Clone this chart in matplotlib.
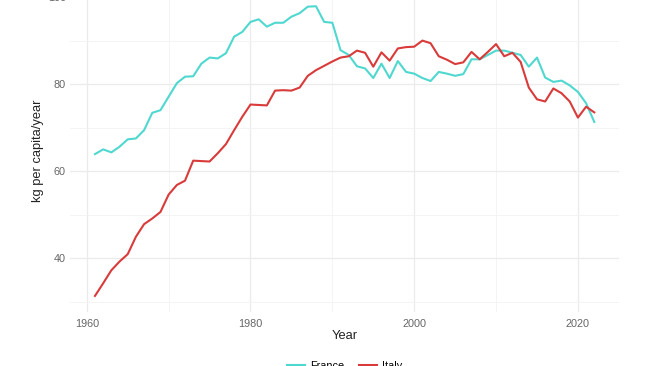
"""
Meat supply per capita, France vs Italy (1961-2022)
"""

import matplotlib
matplotlib.use("Agg")
import matplotlib.pyplot as plt
from matplotlib.ticker import MultipleLocator

# ── Data ──────────────────────────────────────────────────────────────────────
years = list(range(1961, 2023))

france = [
    63.9, 65.0, 64.3, 65.6, 67.3, 67.5, 69.4, 73.4, 74.0, 77.1,
    80.2, 81.7, 81.8, 84.7, 86.1, 85.9, 87.1, 90.9, 92.0, 94.3,
    94.9, 93.2, 94.1, 94.1, 95.5, 96.3, 97.8, 97.9, 94.3, 94.1,
    87.8, 86.7, 84.1, 83.6, 81.4, 84.7, 81.4, 85.3, 82.8, 82.4,
    81.4, 80.7, 82.8, 82.4, 81.9, 82.3, 85.7, 85.7, 86.7, 87.7,
    87.7, 87.2, 86.7, 84.0, 86.1, 81.5, 80.5, 80.8, 79.7, 78.2,
    75.6, 71.3,
]

italy = [
    31.3, 34.2, 37.2, 39.2, 40.9, 44.9, 47.8, 49.1, 50.6, 54.6,
    56.8, 57.8, 62.4, 62.3, 62.2, 64.1, 66.2, 69.4, 72.5, 75.3,
    75.2, 75.1, 78.5, 78.6, 78.5, 79.2, 81.9, 83.2, 84.2, 85.2,
    86.1, 86.4, 87.7, 87.2, 84.0, 87.3, 85.4, 88.2, 88.5, 88.6,
    90.0, 89.4, 86.4, 85.6, 84.6, 85.0, 87.4, 85.7, 87.4, 89.2,
    86.4, 87.2, 85.1, 79.2, 76.5, 76.0, 79.0, 77.9, 76.0, 72.3,
    74.8, 73.5,
]

labels = ["France", "Italy"]
colors = ["#4fd8cf", "#d93a3a"]

# ── Figure ────────────────────────────────────────────────────────────────────
plt.rcParams["font.family"] = ["Liberation Sans", "DejaVu Sans"]

fig = plt.figure(figsize=(6.5, 3.66), dpi=100)
ax = fig.add_axes([0.1077, 0.1475, 0.845, 0.883])

ax.plot(years, france, color=colors[0], linewidth=1.5, label=labels[0])
ax.plot(years, italy, color=colors[1], linewidth=1.5, label=labels[1])

ax.set_xlim(1957.95, 2025.05)
ax.set_ylim(27.6, 101.9)

ax.xaxis.set_major_locator(MultipleLocator(20))
ax.xaxis.set_minor_locator(MultipleLocator(10))
ax.yaxis.set_major_locator(MultipleLocator(20))
ax.yaxis.set_minor_locator(MultipleLocator(10))

# theme_minimal look
ax.grid(which="major", color="#ebebeb", linewidth=0.9)
ax.grid(which="minor", color="#f3f3f3", linewidth=0.6)
ax.set_axisbelow(True)
for s in ax.spines.values():
    s.set_visible(False)
ax.tick_params(which="both", length=0, labelsize=7.8, labelcolor="#666666")
ax.tick_params(axis="x", pad=5)
ax.tick_params(axis="y", pad=3)

ax.set_xlabel("Year", fontsize=9.3, color="#222222", labelpad=1)
ax.set_ylabel("kg per capita/year", fontsize=9.3, color="#222222", labelpad=3)

# ── Legend (bottom, partly cut off by the frame) ─────────────────────────────
fig.legend(
    loc="center",
    bbox_to_anchor=(0.53, 0.0),
    ncol=2,
    frameon=False,
    fontsize=7.8,
    handlelength=1.7,
    handletextpad=0.4,
    columnspacing=1.4,
)

plt.savefig("out.png", dpi=100)
